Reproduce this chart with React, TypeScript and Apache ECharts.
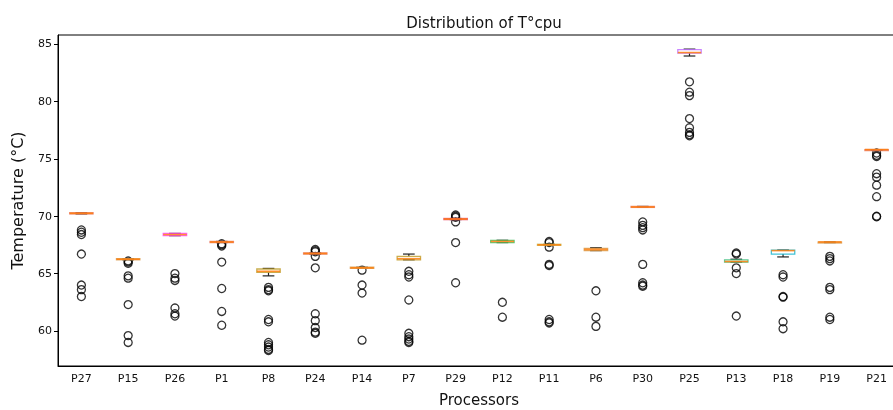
import React, { useEffect, useRef } from "react";
import * as echarts from "echarts";

const categories = ["P27","P15","P26","P1","P8","P24","P14","P7","P29","P12","P11","P6","P30","P25","P13","P18","P19","P21"];
const whiskerLow = [70.2,66.2,68.3,67.7,64.8,66.7,65.5,66.2,69.7,67.7,67.5,67.0,70.8,83.95,66.0,66.45,67.7,75.75];
const q1 =        [70.2,66.2,68.3,67.7,65.1,66.7,65.5,66.2,69.7,67.7,67.5,67.0,70.8,84.2,66.0,66.7,67.7,75.75];
const medians =   [70.25,66.25,68.4,67.75,65.2,66.75,65.5,66.3,69.75,67.8,67.5,67.1,70.8,84.25,66.05,67.0,67.75,75.8];
const q3 =        [70.3,66.3,68.5,67.8,65.4,66.8,65.55,66.5,69.8,67.9,67.55,67.2,70.85,84.5,66.2,67.05,67.75,75.8];
const whiskerHigh=[70.3,66.3,68.5,67.8,65.45,66.8,65.55,66.7,69.8,67.9,67.55,67.25,70.85,84.55,66.25,67.05,67.75,75.8];
const outliers: number[][] = [
  [68.8,68.6,68.4,66.7,64.0,63.6,63.0],
  [66.1,66.0,65.9,64.8,64.6,62.3,59.6,59.0],
  [65.0,64.6,64.4,62.0,61.5,61.3],
  [67.6,67.5,67.4,66.0,63.7,61.7,60.5],
  [63.8,63.6,63.5,61.0,60.8,59.0,58.8,58.6,58.4,58.3],
  [67.1,67.0,66.9,66.5,65.5,61.5,60.9,60.3,59.9,59.8],
  [65.3,64.0,63.3,59.2],
  [65.2,64.9,64.7,62.7,59.8,59.5,59.3,59.1,59.0],
  [70.1,70.0,69.9,69.5,67.7,64.2],
  [62.5,61.2],
  [67.8,67.7,67.3,65.8,65.7,61.0,60.8,60.7],
  [63.5,61.2,60.4],
  [69.5,69.2,69.0,68.8,65.8,64.2,64.0,63.9],
  [81.7,80.8,80.5,78.5,77.7,77.3,77.1,77.0],
  [66.8,66.7,65.5,65.0,61.3],
  [64.9,64.7,63.0,62.95,60.8,60.2],
  [66.5,66.3,66.1,63.8,63.6,61.2,61.0],
  [75.5,75.3,75.2,73.7,73.4,72.7,71.7,70.0,69.95],
];
const yTicks = [60, 65, 70, 75, 80, 85];
const boxColors = ["#e8735a","#d89a4a","#ff44ff","#e8735a","#c0a030","#e8735a","#d89a4a","#c0a030","#e84060","#40c060","#c0b040","#d89a4a","#e8735a","#c070ff","#40c080","#20b8d0","#d89a4a","#e8735a"];

export default function App() {
  const ref = useRef<HTMLDivElement>(null);
  useEffect(() => {
    if (!ref.current) return;
    const chart = echarts.init(ref.current, null, { renderer: "svg" });
    const boxData = categories.map((_, i) => [i, whiskerLow[i], q1[i], medians[i], q3[i], whiskerHigh[i]]);
    const outData: number[][] = [];
    outliers.forEach((arr, i) => arr.forEach((v) => outData.push([i, v])));
    const font = "DejaVu Sans";
    chart.setOption({
      animation: false,
      title: {
        text: "Distribution of T°cpu",
        left: 479,
        textAlign: "center",
        top: 10,
        textStyle: { fontFamily: font, fontSize: 15, fontWeight: "normal", color: "#111" },
      },
      grid: { left: 58, width: 842, top: 35, bottom: 44, outerBoundsMode: "none", containLabel: false, show: true, borderColor: "#000", borderWidth: 1, backgroundColor: "transparent" },
      xAxis: {
        type: "category",
        data: categories,
        boundaryGap: true,
        name: "Processors",
        nameLocation: "middle",
        nameGap: 26,
        nameTextStyle: { fontFamily: font, fontSize: 15, color: "#111" },
        axisLine: { lineStyle: { color: "#000", width: 1 } },
        axisTick: { alignWithLabel: true, length: 4, lineStyle: { color: "#000" } },
        axisLabel: { fontFamily: font, fontSize: 11, color: "#111", margin: 7 },
        splitLine: { show: false },
      },
      yAxis: {
        type: "value",
        min: 56.95,
        max: 85.78,
        name: "Temperature (°C)",
        nameLocation: "middle",
        nameGap: 33,
        nameTextStyle: { fontFamily: font, fontSize: 16, color: "#111" },
        axisLine: { show: true, lineStyle: { color: "#000", width: 1 } },
        axisTick: { show: true, length: 4, customValues: yTicks, lineStyle: { color: "#000" } },
        axisLabel: { fontFamily: font, fontSize: 11, color: "#111", margin: 6, customValues: yTicks },
        splitLine: { show: false },
      },
      series: [
        {
          type: "custom",
          data: boxData,
          encode: { x: 0, y: [1, 2, 3, 4, 5] },
          renderItem: (params: any, api: any) => {
            const i = api.value(0);
            const c = api.coord([i, api.value(3)]);
            const x = c[0];
            const bw = api.size([1, 0])[0] * 0.5;
            const hw = bw / 2;
            const yWl = api.coord([i, api.value(1)])[1];
            const yQ1 = api.coord([i, api.value(2)])[1];
            const yMed = c[1];
            const yQ3 = api.coord([i, api.value(4)])[1];
            const yWh = api.coord([i, api.value(5)])[1];
            const capHw = bw / 4;
            const col = boxColors[params.dataIndex];
            const black = { stroke: "#222", lineWidth: 1.2 };
            return {
              type: "group",
              children: [
                { type: "line", shape: { x1: x, y1: yQ1, x2: x, y2: yWl }, style: black },
                { type: "line", shape: { x1: x, y1: yQ3, x2: x, y2: yWh }, style: black },
                { type: "line", shape: { x1: x - capHw, y1: yWl, x2: x + capHw, y2: yWl }, style: black },
                { type: "line", shape: { x1: x - capHw, y1: yWh, x2: x + capHw, y2: yWh }, style: black },
                { type: "rect", shape: { x: x - hw, y: yQ3, width: bw, height: Math.max(yQ1 - yQ3, 1) }, style: { fill: "none", stroke: col, lineWidth: 1.3, opacity: 0.85 } },
                { type: "line", shape: { x1: x - hw, y1: yMed, x2: x + hw, y2: yMed }, style: { stroke: "#ff7f0e", lineWidth: 1.6, opacity: 0.85 } },
              ],
            };
          },
          z: 3,
        },
        {
          type: "scatter",
          data: outData,
          symbol: "circle",
          symbolSize: 8,
          itemStyle: { color: "transparent", borderColor: "#000", borderWidth: 1.3 },
          z: 2,
        },
      ],
    });
    return () => chart.dispose();
  }, []);
  return <div ref={ref} style={{ position: "fixed", left: 0, top: 0, width: 893, height: 410 }} />;
}
